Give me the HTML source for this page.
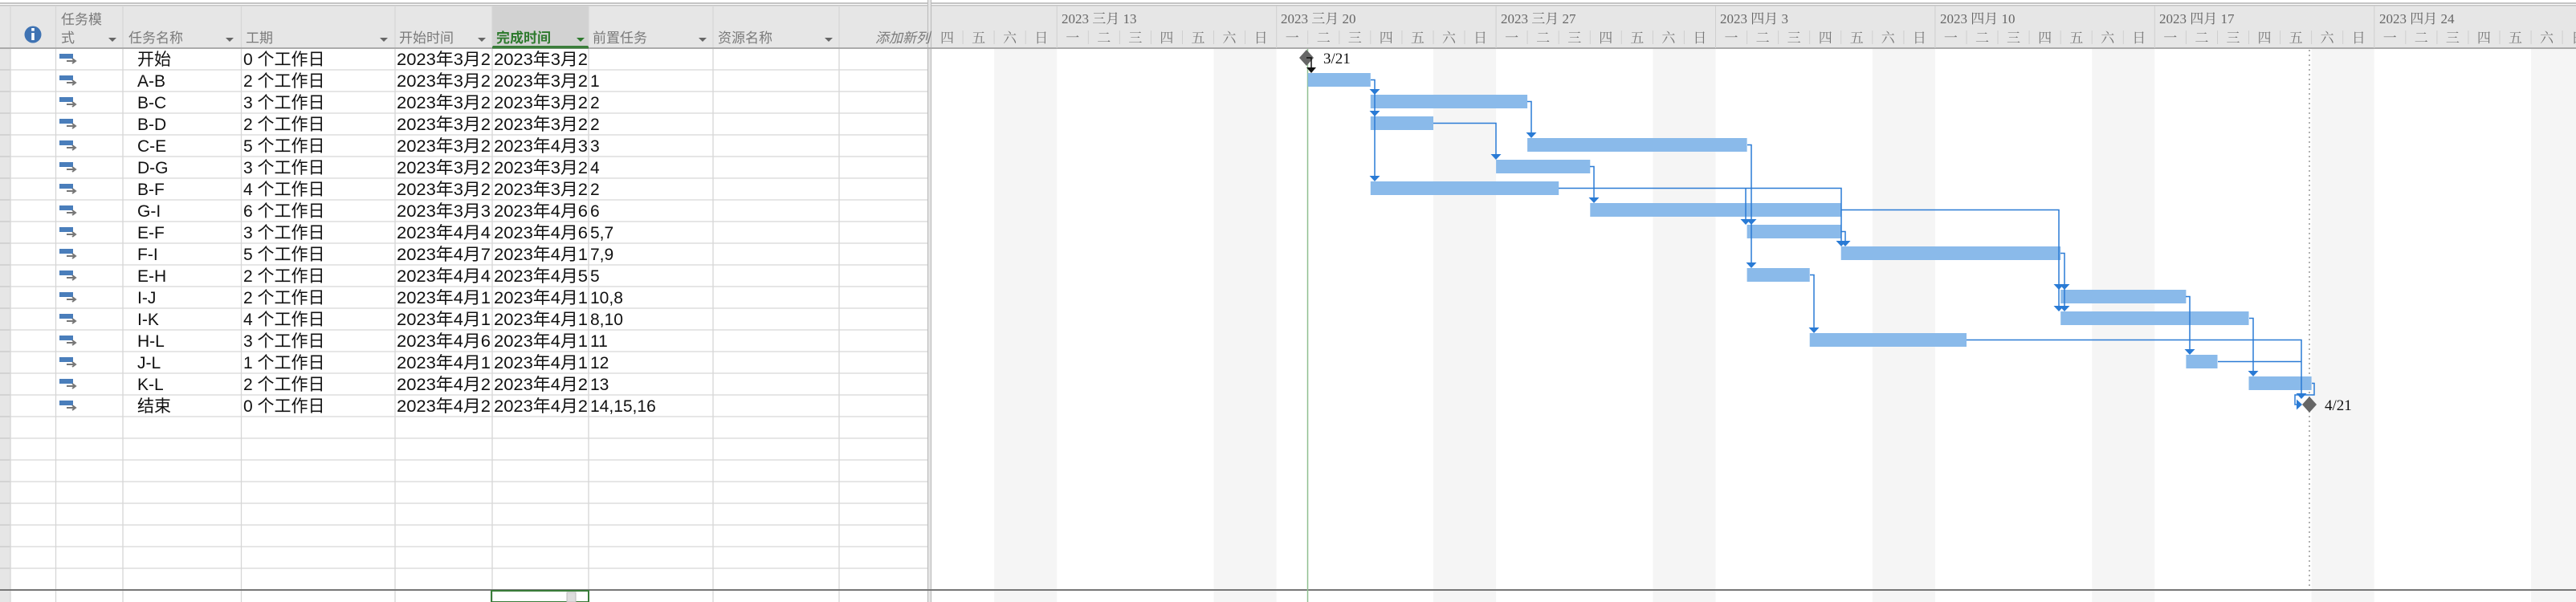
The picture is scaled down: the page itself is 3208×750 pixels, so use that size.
<!DOCTYPE html>
<html><head><meta charset="utf-8"><style>
html,body{margin:0;padding:0;background:#fff;}
svg{display:block;}
.h{font-family:"Liberation Sans","Noto Sans CJK SC",sans-serif;font-size:17px;fill:#7a7a7a;}
.c{font-family:"Liberation Sans","Noto Sans CJK SC",sans-serif;font-size:21px;fill:#111;}
.d{font-family:"Liberation Serif","Noto Serif CJK SC",serif;font-size:17px;fill:#777;text-anchor:middle;}
.w{font-family:"Liberation Serif","Noto Serif CJK SC",serif;font-size:17px;fill:#666;}
.m{font-family:"Liberation Serif",serif;font-size:19px;fill:#111;}
</style></head><body>
<svg width="3208" height="750" xmlns="http://www.w3.org/2000/svg">
<defs>
<clipPath id="ct"><rect x="0" y="0" width="1155" height="750"/></clipPath>
<g id="mi"><rect x="0" y="0" width="17" height="6" fill="#4a7ebb"/><path d="M9 9 H19 M16 6 L20 9 L16 12" stroke="#777" stroke-width="2" fill="none"/></g>
<path id="ar" d="M-6.5 -7 L6.5 -7 L0 0 Z" fill="#2a7bd5"/>
</defs>
<rect x="0" y="7" width="3208" height="53" fill="#e6e6e6"/>
<rect x="0" y="3" width="3208" height="2" fill="#c4c4c4"/>
<rect x="0" y="6" width="3208" height="1.5" fill="#c4c4c4"/>
<rect x="613" y="7" width="120" height="53" fill="#d2d2d2"/>
<rect x="613" y="57" width="120" height="3" fill="#3a7d3a"/>
<rect x="0" y="60" width="13" height="690" fill="#e6e6e6"/>
<g fill="#f5f5f5">
<rect x="1238.1" y="61" width="78.1" height="689"/>
<rect x="1511.5" y="61" width="78.1" height="689"/>
<rect x="1785" y="61" width="78.1" height="689"/>
<rect x="2058.4" y="61" width="78.1" height="689"/>
<rect x="2331.8" y="61" width="78.1" height="689"/>
<rect x="2605.2" y="61" width="78.1" height="689"/>
<rect x="2878.6" y="61" width="78.1" height="689"/>
<rect x="3152.1" y="61" width="78.1" height="689"/>
</g>
<g stroke="#d6d6d6" stroke-width="1.3">
<path d="M13 87H1155M13 114H1155M13 141H1155M13 168H1155M13 195H1155M13 222H1155M13 249H1155M13 276H1155M13 303H1155M13 330H1155M13 357H1155M13 384H1155M13 411H1155M13 438H1155M13 465H1155M13 492H1155M13 519H1155M13 546H1155M13 573H1155M13 600H1155M13 627H1155M13 654H1155M13 681H1155M13 708H1155"/>
<path d="M0 87H13M0 114H13M0 141H13M0 168H13M0 195H13M0 222H13M0 249H13M0 276H13M0 303H13M0 330H13M0 357H13M0 384H13M0 411H13M0 438H13M0 465H13M0 492H13M0 519H13M0 546H13M0 573H13M0 600H13M0 627H13M0 654H13M0 681H13M0 708H13" stroke="#c8c8c8"/>
<path d="M13 7V750M69.5 7V750M153 7V750M300.5 7V750M492 7V750M613 7V750M733 7V750M888 7V750M1045 7V750"/>
</g>
<rect x="1155" y="0" width="5" height="750" fill="#e6e6e6"/>
<path d="M1155.5 0V750M1159.5 0V750" stroke="#bdbdbd" stroke-width="1.2"/>
<rect x="0" y="59" width="3208" height="2" fill="#ababab"/>
<rect x="613" y="58" width="120" height="2.5" fill="#3a7d3a"/>
<rect x="0" y="734" width="3208" height="2" fill="#777"/>
<rect x="612" y="736" width="121" height="14" fill="none" stroke="#3a7d3a" stroke-width="2"/>
<rect x="706" y="738" width="11" height="12" fill="#ddd" stroke="#bbb"/>
<circle cx="41" cy="43" r="10.5" fill="#3f73b3"/>
<rect x="39.2" y="41" width="3.6" height="9" fill="#fff"/><rect x="39.2" y="35" width="3.6" height="3.6" fill="#fff"/>
<text class="h" x="76" y="30">任务模</text><text class="h" x="76" y="53">式</text>
<text class="h" x="160" y="53">任务名称</text>
<text class="h" x="306" y="53">工期</text>
<text class="h" x="497" y="53">开始时间</text>
<text class="h" x="618" y="53" style="fill:#2e7a2e;font-weight:bold">完成时间</text>
<text class="h" x="738" y="53">前置任务</text>
<text class="h" x="894" y="53">资源名称</text>
<text class="h" x="1090" y="53" style="font-style:italic">添加新列</text>
<g fill="#666">
<path d="M135 47h10l-5 5z"/><path d="M281 47h10l-5 5z"/><path d="M473 47h10l-5 5z"/><path d="M595 47h10l-5 5z"/><path d="M718 47h10l-5 5z" fill="#2e7a2e"/><path d="M870 47h10l-5 5z"/><path d="M1027 47h10l-5 5z"/>
</g>
<g>
<use href="#mi" x="74" y="67"/><use href="#mi" x="74" y="94"/><use href="#mi" x="74" y="121"/><use href="#mi" x="74" y="148"/><use href="#mi" x="74" y="175"/><use href="#mi" x="74" y="202"/><use href="#mi" x="74" y="229"/><use href="#mi" x="74" y="256"/><use href="#mi" x="74" y="283"/><use href="#mi" x="74" y="310"/><use href="#mi" x="74" y="337"/><use href="#mi" x="74" y="364"/><use href="#mi" x="74" y="391"/><use href="#mi" x="74" y="418"/><use href="#mi" x="74" y="445"/><use href="#mi" x="74" y="472"/><use href="#mi" x="74" y="499"/>
</g>
<g class="c" clip-path="url(#ct)">
<g transform="translate(0,81)"><text x="171">开始</text><text x="303">0 个工作日</text><text x="494" textLength="117" lengthAdjust="spacingAndGlyphs">2023年3月2</text><text x="615" textLength="117" lengthAdjust="spacingAndGlyphs">2023年3月2</text></g>
<g transform="translate(0,108)"><text x="171">A-B</text><text x="303">2 个工作日</text><text x="494" textLength="117" lengthAdjust="spacingAndGlyphs">2023年3月2</text><text x="615" textLength="117" lengthAdjust="spacingAndGlyphs">2023年3月2</text><text x="735">1</text></g>
<g transform="translate(0,135)"><text x="171">B-C</text><text x="303">3 个工作日</text><text x="494" textLength="117" lengthAdjust="spacingAndGlyphs">2023年3月2</text><text x="615" textLength="117" lengthAdjust="spacingAndGlyphs">2023年3月2</text><text x="735">2</text></g>
<g transform="translate(0,162)"><text x="171">B-D</text><text x="303">2 个工作日</text><text x="494" textLength="117" lengthAdjust="spacingAndGlyphs">2023年3月2</text><text x="615" textLength="117" lengthAdjust="spacingAndGlyphs">2023年3月2</text><text x="735">2</text></g>
<g transform="translate(0,189)"><text x="171">C-E</text><text x="303">5 个工作日</text><text x="494" textLength="117" lengthAdjust="spacingAndGlyphs">2023年3月2</text><text x="615" textLength="117" lengthAdjust="spacingAndGlyphs">2023年4月3</text><text x="735">3</text></g>
<g transform="translate(0,216)"><text x="171">D-G</text><text x="303">3 个工作日</text><text x="494" textLength="117" lengthAdjust="spacingAndGlyphs">2023年3月2</text><text x="615" textLength="117" lengthAdjust="spacingAndGlyphs">2023年3月2</text><text x="735">4</text></g>
<g transform="translate(0,243)"><text x="171">B-F</text><text x="303">4 个工作日</text><text x="494" textLength="117" lengthAdjust="spacingAndGlyphs">2023年3月2</text><text x="615" textLength="117" lengthAdjust="spacingAndGlyphs">2023年3月2</text><text x="735">2</text></g>
<g transform="translate(0,270)"><text x="171">G-I</text><text x="303">6 个工作日</text><text x="494" textLength="117" lengthAdjust="spacingAndGlyphs">2023年3月3</text><text x="615" textLength="117" lengthAdjust="spacingAndGlyphs">2023年4月6</text><text x="735">6</text></g>
<g transform="translate(0,297)"><text x="171">E-F</text><text x="303">3 个工作日</text><text x="494" textLength="117" lengthAdjust="spacingAndGlyphs">2023年4月4</text><text x="615" textLength="117" lengthAdjust="spacingAndGlyphs">2023年4月6</text><text x="735">5,7</text></g>
<g transform="translate(0,324)"><text x="171">F-I</text><text x="303">5 个工作日</text><text x="494" textLength="117" lengthAdjust="spacingAndGlyphs">2023年4月7</text><text x="615" textLength="117" lengthAdjust="spacingAndGlyphs">2023年4月1</text><text x="735">7,9</text></g>
<g transform="translate(0,351)"><text x="171">E-H</text><text x="303">2 个工作日</text><text x="494" textLength="117" lengthAdjust="spacingAndGlyphs">2023年4月4</text><text x="615" textLength="117" lengthAdjust="spacingAndGlyphs">2023年4月5</text><text x="735">5</text></g>
<g transform="translate(0,378)"><text x="171">I-J</text><text x="303">2 个工作日</text><text x="494" textLength="117" lengthAdjust="spacingAndGlyphs">2023年4月1</text><text x="615" textLength="117" lengthAdjust="spacingAndGlyphs">2023年4月1</text><text x="735">10,8</text></g>
<g transform="translate(0,405)"><text x="171">I-K</text><text x="303">4 个工作日</text><text x="494" textLength="117" lengthAdjust="spacingAndGlyphs">2023年4月1</text><text x="615" textLength="117" lengthAdjust="spacingAndGlyphs">2023年4月1</text><text x="735">8,10</text></g>
<g transform="translate(0,432)"><text x="171">H-L</text><text x="303">3 个工作日</text><text x="494" textLength="117" lengthAdjust="spacingAndGlyphs">2023年4月6</text><text x="615" textLength="117" lengthAdjust="spacingAndGlyphs">2023年4月1</text><text x="735">11</text></g>
<g transform="translate(0,459)"><text x="171">J-L</text><text x="303">1 个工作日</text><text x="494" textLength="117" lengthAdjust="spacingAndGlyphs">2023年4月1</text><text x="615" textLength="117" lengthAdjust="spacingAndGlyphs">2023年4月1</text><text x="735">12</text></g>
<g transform="translate(0,486)"><text x="171">K-L</text><text x="303">2 个工作日</text><text x="494" textLength="117" lengthAdjust="spacingAndGlyphs">2023年4月2</text><text x="615" textLength="117" lengthAdjust="spacingAndGlyphs">2023年4月2</text><text x="735">13</text></g>
<g transform="translate(0,513)"><text x="171">结束</text><text x="303">0 个工作日</text><text x="494" textLength="117" lengthAdjust="spacingAndGlyphs">2023年4月2</text><text x="615" textLength="117" lengthAdjust="spacingAndGlyphs">2023年4月2</text><text x="735">14,15,16</text></g>
</g>
<g stroke="#cfcfcf" stroke-width="1">
<path d="M1199.1 38V55M1238.1 38V55M1277.2 38V55M1355.3 38V55M1394.4 38V55M1433.4 38V55M1472.5 38V55M1511.5 38V55M1550.6 38V55M1628.7 38V55M1667.8 38V55M1706.8 38V55M1745.9 38V55M1785 38V55M1824 38V55M1902.1 38V55M1941.2 38V55M1980.3 38V55M2019.3 38V55M2058.4 38V55M2097.4 38V55M2175.6 38V55M2214.6 38V55M2253.7 38V55M2292.7 38V55M2331.8 38V55M2370.9 38V55M2449 38V55M2488 38V55M2527.1 38V55M2566.2 38V55M2605.2 38V55M2644.3 38V55M2722.4 38V55M2761.5 38V55M2800.5 38V55M2839.6 38V55M2878.6 38V55M2917.7 38V55M2995.8 38V55M3034.9 38V55M3073.9 38V55M3113 38V55M3152.1 38V55M3191.1 38V55"/>
<path d="M1316.2 7V60M1589.7 7V60M1863.1 7V60M2136.5 7V60M2409.9 7V60M2683.3 7V60M2956.8 7V60"/>
</g>
<text class="w" x="1322" y="29">2023 三月 13</text>
<text class="w" x="1595" y="29">2023 三月 20</text>
<text class="w" x="1869" y="29">2023 三月 27</text>
<text class="w" x="2142" y="29">2023 四月 3</text>
<text class="w" x="2416" y="29">2023 四月 10</text>
<text class="w" x="2689" y="29">2023 四月 17</text>
<text class="w" x="2963" y="29">2023 四月 24</text>
<g class="d">
<text x="1179.5" y="53">四</text><text x="1218.6" y="53">五</text><text x="1257.6" y="53">六</text><text x="1296.7" y="53">日</text>
<text x="1335.7" y="53">一</text><text x="1374.8" y="53">二</text><text x="1413.9" y="53">三</text><text x="1452.9" y="53">四</text><text x="1492" y="53">五</text><text x="1531" y="53">六</text><text x="1570.1" y="53">日</text>
<text x="1609.2" y="53">一</text><text x="1648.2" y="53">二</text><text x="1687.3" y="53">三</text><text x="1726.3" y="53">四</text><text x="1765.4" y="53">五</text><text x="1804.5" y="53">六</text><text x="1843.5" y="53">日</text>
<text x="1882.6" y="53">一</text><text x="1921.6" y="53">二</text><text x="1960.7" y="53">三</text><text x="1999.8" y="53">四</text><text x="2038.8" y="53">五</text><text x="2077.9" y="53">六</text><text x="2116.9" y="53">日</text>
<text x="2156" y="53">一</text><text x="2195.1" y="53">二</text><text x="2234.1" y="53">三</text><text x="2273.2" y="53">四</text><text x="2312.2" y="53">五</text><text x="2351.3" y="53">六</text><text x="2390.4" y="53">日</text>
<text x="2429.4" y="53">一</text><text x="2468.5" y="53">二</text><text x="2507.5" y="53">三</text><text x="2546.6" y="53">四</text><text x="2585.7" y="53">五</text><text x="2624.7" y="53">六</text><text x="2663.8" y="53">日</text>
<text x="2702.8" y="53">一</text><text x="2741.9" y="53">二</text><text x="2781" y="53">三</text><text x="2820" y="53">四</text><text x="2859.1" y="53">五</text><text x="2898.1" y="53">六</text><text x="2937.2" y="53">日</text>
<text x="2976.3" y="53">一</text><text x="3015.3" y="53">二</text><text x="3054.4" y="53">三</text><text x="3093.4" y="53">四</text><text x="3132.5" y="53">五</text><text x="3171.6" y="53">六</text><text x="3210.6" y="53">日</text>
</g>
<path d="M1628.5 61V750" stroke="#8fbf8f" stroke-width="1.5"/>
<path d="M2876 62V734" stroke="#888" stroke-width="1.3" stroke-dasharray="2,4"/>
<g fill="#8abaea">
<rect x="1628.7" y="91" width="78.1" height="17"/>
<rect x="1706.8" y="118" width="195.3" height="17"/>
<rect x="1706.8" y="145" width="78.2" height="17"/>
<rect x="1902.1" y="172" width="273.5" height="17"/>
<rect x="1863.1" y="199" width="117.2" height="17"/>
<rect x="1706.8" y="226" width="234.4" height="17"/>
<rect x="1980.3" y="253" width="312.4" height="17"/>
<rect x="2175.6" y="280" width="117.1" height="17"/>
<rect x="2292.7" y="307" width="273.5" height="17"/>
<rect x="2175.6" y="334" width="78.1" height="17"/>
<rect x="2566.2" y="361" width="156.2" height="17"/>
<rect x="2566.2" y="388" width="234.3" height="17"/>
<rect x="2253.7" y="415" width="195.3" height="17"/>
<rect x="2722.4" y="442" width="39.1" height="17"/>
<rect x="2800.5" y="469" width="78.1" height="17"/>
</g>
<g stroke="#2a7bd5" stroke-width="1.5" fill="none">
<path d="M1707 99.5H1712V220"/>
<path d="M1902 126.5H1907V166"/>
<path d="M1785 153.5H1863V193"/>
<path d="M2176 180.5H2181V328"/>
<path d="M1980 207.5H1985V247"/>
<path d="M1941 234.5H2293V301M2174 234.5V274"/>
<path d="M2293 261.5H2564V382"/>
<path d="M2293 288.5H2298V301"/>
<path d="M2566 315.5H2571V382"/>
<path d="M2254 342.5H2259V409"/>
<path d="M2722 369.5H2727V436"/>
<path d="M2801 396.5H2806V463"/>
<path d="M2449 423.5H2866V490"/>
<path d="M2762 450.5H2866"/>
<path d="M2879 477.5H2882V492H2858V504H2862"/>
</g>
<g>
<use href="#ar" x="1712" y="118"/><use href="#ar" x="1712" y="145"/><use href="#ar" x="1712" y="226"/>
<use href="#ar" x="1907" y="172"/><use href="#ar" x="1863" y="199"/>
<use href="#ar" x="1985" y="253"/>
<use href="#ar" x="2174" y="280"/><use href="#ar" x="2181" y="280"/>
<use href="#ar" x="2293" y="307"/><use href="#ar" x="2298" y="307"/>
<use href="#ar" x="2181" y="334"/>
<use href="#ar" x="2564" y="361"/><use href="#ar" x="2571" y="361"/>
<use href="#ar" x="2564" y="388"/><use href="#ar" x="2571" y="388"/>
<use href="#ar" x="2259" y="415"/>
<use href="#ar" x="2727" y="442"/>
<use href="#ar" x="2806" y="469"/>
<use href="#ar" x="2866" y="497"/>
</g>
<path d="M2860 497.5L2867 504L2860 510.5Z" fill="#2a7bd5"/>
<path d="M1627 62L1636 72L1627 82L1618 72Z" fill="#666"/>
<path d="M1627 72H1633V84" stroke="#111" stroke-width="1.5" fill="none"/>
<path d="M1627 84H1639L1633 91Z" fill="#111"/>
<text class="m" x="1648" y="79">3/21</text>
<path d="M2876 494L2885 504L2876 514L2867 504Z" fill="#666"/>
<text class="m" x="2895" y="511">4/21</text>
</svg>
</body></html>
